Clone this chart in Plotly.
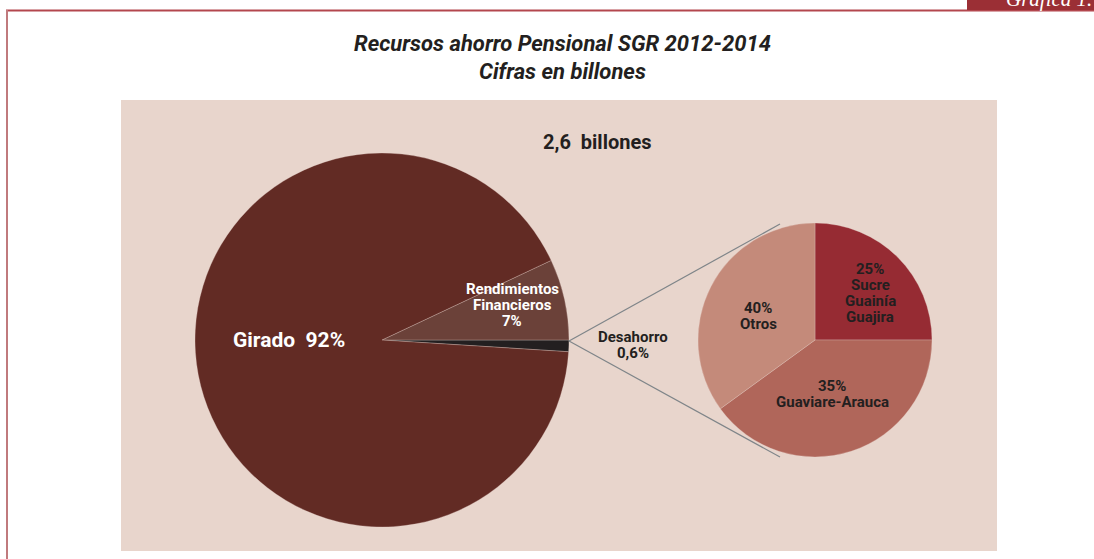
import plotly.graph_objects as go

W, H = 1094, 559

# Main pie
main_labels = ["Desahorro", "Rendimientos Financieros", "Girado"]
main_values = [1.0, 7.0, 92.0]
main_text = [["Desahorro", "0,6%"], ["Rendimientos", "Financieros", "7%"], ["Girado  92%"]]
main_colors = ["#231f20", "#6b4139", "#622b24"]

# Detail pie (Desahorro breakdown)
sub_labels = ["Sucre Guainía Guajira", "Guaviare-Arauca", "Otros"]
sub_values = [25, 40, 35]
sub_text = [["25%", "Sucre", "Guainía", "Guajira"], ["35%", "Guaviare-Arauca"], ["40%", "Otros"]]
sub_colors = ["#962b33", "#b0665a", "#c48a7a"]

title_lines = ["Recursos ahorro Pensional SGR 2012-2014", "Cifras en billones"]
total_label = "2,6  billones"
tab_label = "Gráfica 1."


def px(x):
    return x / W


def py(y):
    return 1 - y / H


FONT = "Roboto, 'Liberation Sans Narrow', Arial, sans-serif"

fig = go.Figure()

fig.add_trace(go.Pie(
    labels=main_labels, values=main_values, sort=False,
    direction="counterclockwise", rotation=90,
    marker=dict(colors=main_colors, line=dict(color="rgba(232,213,204,0.5)", width=0.6)),
    textinfo="none", hoverinfo="label+value", showlegend=False,
    domain=dict(x=[px(195), px(569)], y=[py(527), py(153)]),
))

fig.add_trace(go.Pie(
    labels=sub_labels, values=sub_values, sort=False,
    direction="clockwise", rotation=0,
    marker=dict(colors=sub_colors, line=dict(color="rgba(232,213,204,0.5)", width=0.6)),
    textinfo="none", hoverinfo="label+value", showlegend=False,
    domain=dict(x=[px(698), px(932)], y=[py(457), py(223)]),
))

shapes = [
    # beige panel
    dict(type="rect", xref="paper", yref="paper", x0=px(121), x1=px(997), y0=py(551), y1=py(100),
         fillcolor="#e8d5cc", line=dict(width=0), layer="below"),
    # frame
    dict(type="line", xref="paper", yref="paper", x0=px(6), x1=px(1094), y0=py(10.5), y1=py(10.5),
         line=dict(color="#b3474e", width=2)),
    dict(type="line", xref="paper", yref="paper", x0=px(7), x1=px(7), y0=py(10), y1=py(559),
         line=dict(color="#c07a7d", width=2)),
    # tab
    dict(type="rect", xref="paper", yref="paper", x0=px(967), x1=px(1094), y0=py(10), y1=py(0),
         fillcolor="#9b2f35", line=dict(width=0)),
    # connector lines
    dict(type="line", xref="paper", yref="paper", x0=px(569), y0=py(341), x1=px(780), y1=py(224),
         line=dict(color="#7f8589", width=1.2)),
    dict(type="line", xref="paper", yref="paper", x0=px(569), y0=py(341), x1=px(780), y1=py(457),
         line=dict(color="#7f8589", width=1.2)),
]

ann = []


def add_text(x, y, text, size, color, bold=True, italic=False, family=FONT, xanchor="center"):
    t = text
    if bold:
        t = "<b>" + t + "</b>"
    if italic:
        t = "<i>" + t + "</i>"
    ann.append(dict(xref="paper", yref="paper", x=px(x), y=py(y), text=t, showarrow=False,
                    xanchor=xanchor, yanchor="middle", align="center",
                    font=dict(size=size, color=color, family=family)))


def add_lines(x, y0, lines, size, color, step):
    for i, line in enumerate(lines):
        add_text(x, y0 + i * step, line, size, color)


add_text(562, 44, title_lines[0], 22, "#231f20", italic=True)
add_text(562, 71, title_lines[1], 22, "#231f20", italic=True)
add_text(597, 142, total_label, 20, "#231f20")
add_lines(289, 340, main_text[2], 21, "#ffffff", 16)
add_lines(512, 289, main_text[1], 15, "#ffffff", 16)
add_lines(633, 337, main_text[0], 15, "#231f20", 16)
add_lines(870, 269, sub_text[0], 15, "#231f20", 16)
add_lines(832, 386, sub_text[1], 15, "#231f20", 16)
add_lines(758, 308, sub_text[2], 15, "#231f20", 16)
ann.append(dict(xref="paper", yref="paper", x=px(1004), y=py(-1), text="<i>" + tab_label + "</i>",
                showarrow=False, xanchor="left", yanchor="middle",
                font=dict(size=21, color="#ffffff", family="'Liberation Serif', serif")))

fig.update_layout(
    width=W, height=H, margin=dict(l=0, r=0, t=0, b=0),
    paper_bgcolor="#ffffff", plot_bgcolor="#ffffff",
    shapes=shapes, annotations=ann,
)

fig.write_html(
    "out.html",
    config={"displayModeBar": False},
    post_script="document.body.style.margin='0';document.body.style.padding='0';document.body.style.overflow='hidden';",
)
